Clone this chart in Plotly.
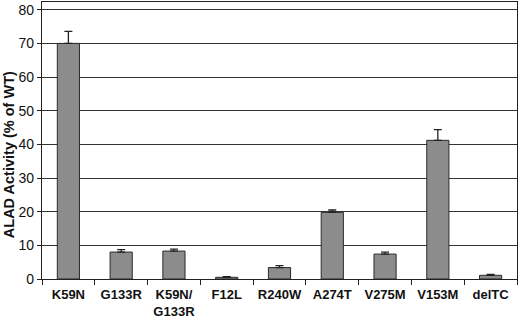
import plotly.graph_objects as go

categories = ["K59N", "G133R", "K59N/<br>G133R", "F12L", "R240W", "A274T", "V275M", "V153M", "delTC"]
activity = [70.0, 8.0, 8.3, 0.5, 3.4, 19.8, 7.4, 41.2, 1.1]
error_plus = [3.6, 0.7, 0.6, 0.2, 0.6, 0.7, 0.6, 3.2, 0.3]
y_ticks = [0, 10, 20, 30, 40, 50, 60, 70, 80]
y_title = "ALAD Activity (% of WT)"

fig = go.Figure()
fig.add_trace(go.Bar(
    x=categories, y=activity,
    width=0.42,
    marker=dict(color="#8c8c8c", line=dict(color="#2a2a2a", width=1)),
    error_y=dict(type="data", array=error_plus, symmetric=False, arrayminus=[0]*len(activity),
                 color="#222222", thickness=1.3, width=4),
))

fig.update_layout(
    width=520, height=318,
    margin=dict(l=42, r=3, t=2, b=39),
    plot_bgcolor="white", paper_bgcolor="white",
    showlegend=False,
    font=dict(family="Liberation Sans, Arial, sans-serif", color="#111111"),
)
fig.add_annotation(
    text="<b>" + y_title + "</b>", textangle=-90,
    xref="paper", yref="paper", x=0, y=0.447, xanchor="center", yanchor="middle",
    xshift=-33, showarrow=False,
    font=dict(size=14.5, family="Liberation Sans, Arial, sans-serif", color="#111111"),
)
fig.update_xaxes(
    automargin=False,
    tickangle=0,
    showline=True, linecolor="#222222", linewidth=1.2,
    mirror=True,
    ticks="outside", tickson="boundaries", ticklen=5, tickcolor="#222222",
    ticklabelstandoff=3,
    tickfont=dict(size=13, family="Liberation Sans, Arial, sans-serif", weight="bold"),
    showgrid=False,
)
fig.update_yaxes(
    automargin=False,
    range=[0, 82.3],
    tickvals=y_ticks,
    showline=True, linecolor="#222222", linewidth=1.2, mirror=True,
    ticks="outside", ticklen=4, tickcolor="#222222",
    tickfont=dict(size=14, family="Liberation Sans, Arial, sans-serif"),
    showgrid=True, gridcolor="#333333", gridwidth=1,
    zeroline=False,
)

fig.write_html("out.html", config={"displayModeBar": False},
               post_script="document.body.style.margin='0px';")
